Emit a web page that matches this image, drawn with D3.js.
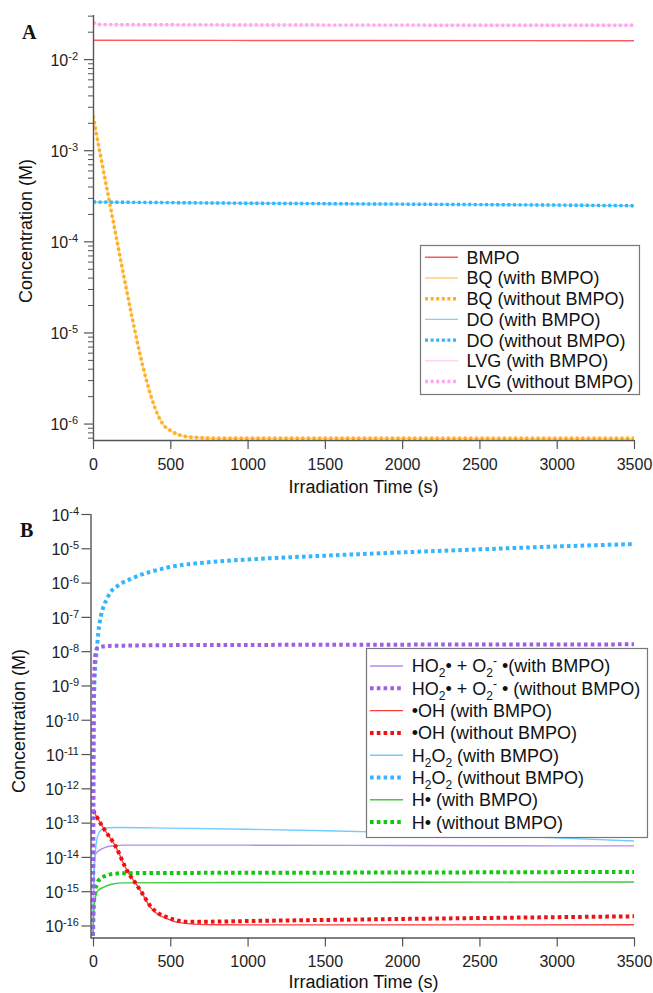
<!DOCTYPE html>
<html>
<head>
<meta charset="utf-8">
<script src="https://cdn.jsdelivr.net/npm/d3@7"></script>
<style>
  body { margin: 0; background: #fff; }
  svg { display: block; font-family: "Liberation Sans", Arial, sans-serif; }
  text { white-space: pre; }
</style>
</head>
<body>
<svg id="chart" width="653" height="993"></svg>
<script>
/** Data (time in s, concentration in M)
------------------------------------------------------------*/

const timeTicks = [0, 500, 1000, 1500, 2000, 2500, 3000, 3500];

// panel A
const bmpoTime = [0, 1750, 3500];
const bmpoConc = [1.61e-2, 1.6e-2, 1.59e-2];

const bqTime = [0, 50, 100, 150, 200, 250, 300, 350, 400, 450, 500, 550, 600, 700, 800, 1000, 1500, 2000, 2500, 3000, 3500];
const bqWithConc = [2.4e-3, 8.5e-4, 3.1e-4, 1.12e-4, 4.1e-5, 1.55e-5, 6.2e-6, 2.8e-6, 1.5e-6, 1.0e-6, 8.4e-7, 7.6e-7, 7.2e-7, 7.0e-7, 6.9e-7, 6.9e-7, 6.9e-7, 6.9e-7, 6.85e-7, 6.85e-7, 6.85e-7];
const bqWithoutConc = [2.4e-3, 8.5e-4, 3.1e-4, 1.12e-4, 4.1e-5, 1.55e-5, 6.2e-6, 2.8e-6, 1.5e-6, 1.0e-6, 8.4e-7, 7.6e-7, 7.2e-7, 7.0e-7, 6.9e-7, 6.9e-7, 6.9e-7, 6.9e-7, 6.9e-7, 6.9e-7, 6.9e-7];

const doTime = [0, 500, 1000, 1500, 2000, 2500, 3000, 3500];
const doWithConc = [2.7e-4, 2.66e-4, 2.62e-4, 2.59e-4, 2.56e-4, 2.53e-4, 2.5e-4, 2.46e-4];
const doWithoutConc = [2.7e-4, 2.66e-4, 2.62e-4, 2.59e-4, 2.56e-4, 2.53e-4, 2.5e-4, 2.46e-4];

const lvgTime = [0, 15, 40, 100, 500, 1000, 2000, 3000, 3500];
const lvgWithConc = [2.55e-2, 2.45e-2, 2.4e-2, 2.39e-2, 2.38e-2, 2.37e-2, 2.36e-2, 2.35e-2, 2.35e-2];
const lvgWithoutConc = [2.55e-2, 2.45e-2, 2.4e-2, 2.39e-2, 2.38e-2, 2.37e-2, 2.36e-2, 2.35e-2, 2.35e-2];

const legendA = ["BMPO", "BQ (with BMPO)", "BQ (without BMPO)", "DO (with BMPO)",
  "DO (without BMPO)", "LVG (with BMPO)", "LVG (without BMPO)"];

// panel B
const ho2WithTime = [0, 3, 8, 13, 25, 45, 80, 131, 200, 1000, 2000, 3000, 3500];
const ho2WithConc = [5e-17, 1e-15, 6e-15, 1.1e-14, 1.35e-14, 1.6e-14, 1.9e-14, 2.1e-14, 2.2e-14, 2.2e-14, 2.15e-14, 2.1e-14, 2.1e-14];
const ho2WithoutTime = [0, 3, 6, 12, 18, 30, 50, 100, 200, 500, 1000, 2000, 3000, 3500];
const ho2WithoutConc = [5e-17, 1e-11, 1e-9, 5e-9, 1e-8, 1.25e-8, 1.35e-8, 1.42e-8, 1.45e-8, 1.5e-8, 1.52e-8, 1.55e-8, 1.57e-8, 1.58e-8];

const ohWithTime = [0, 67, 142, 229, 272, 320, 369, 420, 477, 530, 584, 650, 800, 1000, 2000, 3500];
const ohWithConc = [2.3e-13, 7e-14, 2.2e-14, 3.4e-15, 1.8e-15, 8.3e-16, 3.5e-16, 2.1e-16, 1.6e-16, 1.3e-16, 1.17e-16, 1.1e-16, 1.05e-16, 1.04e-16, 1.04e-16, 1.05e-16];
const ohWithoutTime = [0, 67, 142, 229, 272, 320, 369, 420, 477, 530, 584, 650, 800, 1000, 1500, 2000, 2500, 3000, 3500];
const ohWithoutConc = [2.3e-13, 7e-14, 2.2e-14, 3.4e-15, 1.8e-15, 8.5e-16, 3.8e-16, 2.3e-16, 1.75e-16, 1.45e-16, 1.32e-16, 1.28e-16, 1.3e-16, 1.35e-16, 1.45e-16, 1.55e-16, 1.65e-16, 1.75e-16, 1.85e-16];

const h2o2WithTime = [0, 3, 8, 15, 24, 40, 67, 100, 150, 500, 1000, 1500, 2000, 2500, 3000, 3500];
const h2o2WithConc = [5e-17, 5e-16, 3.4e-15, 1.3e-14, 3.1e-14, 5.2e-14, 6.7e-14, 7.1e-14, 7.2e-14, 6.9e-14, 6.4e-14, 5.8e-14, 5.1e-14, 4.3e-14, 3.6e-14, 2.9e-14];
const h2o2WithoutTime = [0, 2, 5, 10, 15, 24, 34, 50, 67, 90, 110, 153, 260, 477, 800, 1000, 1500, 2000, 2500, 3000, 3500];
const h2o2WithoutConc = [5e-17, 1e-12, 1e-10, 1.5e-9, 4e-9, 1e-8, 3.4e-8, 1e-7, 1.95e-7, 3.3e-7, 5e-7, 7.6e-7, 1.37e-6, 2.7e-6, 4.1e-6, 4.7e-6, 6.1e-6, 7.6e-6, 9.3e-6, 1.13e-5, 1.33e-5];

const hWithTime = [0, 3, 8, 13, 30, 67, 120, 200, 1000, 2000, 3500];
const hWithConc = [5e-17, 1.2e-16, 3.5e-16, 6e-16, 1e-15, 1.3e-15, 1.6e-15, 1.75e-15, 1.8e-15, 1.82e-15, 1.85e-15];
const hWithoutTime = [0, 3, 8, 13, 25, 45, 80, 110, 200, 1000, 2000, 3000, 3500];
const hWithoutConc = [5e-17, 2e-16, 6e-16, 1e-15, 1.6e-15, 2.3e-15, 2.8e-15, 3.1e-15, 3.35e-15, 3.45e-15, 3.5e-15, 3.6e-15, 3.65e-15];

// "_x" = subscript, "^x" = superscript
const legendB = ["HO_2• + O_2^- •(with BMPO)", "HO_2• + O_2^- • (without BMPO)",
  "•OH (with BMPO)", "•OH (without BMPO)", "H_2O_2 (with BMPO)", "H_2O_2 (without BMPO)",
  "H• (with BMPO)", "H• (without BMPO)"];

/** Series tables
------------------------------------------------------------*/

const seriesA = [
  { t: bmpoTime, c: bmpoConc, color: "#ff5a5a", dotted: false },
  { t: bqTime, c: bqWithConc, color: "#ffcf85", dotted: false },
  { t: bqTime, c: bqWithoutConc, color: "#ffb020", dotted: true },
  { t: doTime, c: doWithConc, color: "#78d2ff", dotted: false },
  { t: doTime, c: doWithoutConc, color: "#30b6ff", dotted: true },
  { t: lvgTime, c: lvgWithConc, color: "#ffd6f2", dotted: false },
  { t: lvgTime, c: lvgWithoutConc, color: "#ffa6ec", dotted: true }
];
seriesA.forEach((s, i) => s.label = legendA[i]);

const seriesB = [
  { t: ho2WithTime, c: ho2WithConc, color: "#b08cee", dotted: false },
  { t: ho2WithoutTime, c: ho2WithoutConc, color: "#9d5fe8", dotted: true },
  { t: ohWithTime, c: ohWithConc, color: "#ff3d3d", dotted: false },
  { t: ohWithoutTime, c: ohWithoutConc, color: "#ee1111", dotted: true },
  { t: h2o2WithTime, c: h2o2WithConc, color: "#6fcdff", dotted: false },
  { t: h2o2WithoutTime, c: h2o2WithoutConc, color: "#33b5ff", dotted: true },
  { t: hWithTime, c: hWithConc, color: "#3ccc3c", dotted: false },
  { t: hWithoutTime, c: hWithoutConc, color: "#11c711", dotted: true }
];
seriesB.forEach((s, i) => s.label = legendB[i]);

/** Panels
------------------------------------------------------------*/

const svg = d3.select("#chart");
const defs = svg.append("defs");
const axisColor = "#555";

const panelA = {
  id: "A",
  x: d3.scaleLinear().domain([0, 3500]).range([93, 634]),
  y: d3.scaleLog().domain([6.6e-7, 3.05e-2]).range([440, 15]),
  axisX: 93,
  labelX: 78,
  minorTicks: true,
  series: seriesA,
  order: [0, 1, 2, 3, 4, 5, 6],
  dotW: 3.4, dash: "3,2.6",
  titleX: 32, titleY: 231,
  xTitleY: 492.5,
  letter: { x: 22, y: 38.5 },
  legend: { x: 420, y: 245, w: 219, h: 149, row0: 257.3, step: 20.7, l0: 425, l1: 458, tx: 466.5 }
};

const panelB = {
  id: "B",
  x: d3.scaleLinear().domain([0, 3500]).range([93, 634]),
  y: d3.scaleLog().domain([Math.pow(10, -16.35), 1e-4]).range([937.5, 514]),
  axisX: 90.5,
  labelX: 79,
  minorTicks: false,
  series: seriesB,
  order: [0, 2, 4, 6, 5, 7, 3, 1],
  dotW: 4, dash: "3.6,3.2",
  titleX: 25, titleY: 721,
  xTitleY: 987.5,
  letter: { x: 20, y: 537 },
  legend: { x: 366, y: 648, w: 281, h: 189, row0: 666, step: 22.3, l0: 370, l1: 403, tx: 411.7 }
};

function richText(sel, label) {
  const parts = [];
  for (let i = 0; i < label.length; i++) {
    const ch = label[i];
    if (ch === "_" || ch === "^") {
      parts.push({ text: label[i + 1], s: ch === "_" ? 5 : -7 });
      i++;
    } else if (parts.length && parts[parts.length - 1].s === 0) {
      parts[parts.length - 1].text += ch;
    } else {
      parts.push({ text: ch, s: 0 });
    }
  }
  let shift = 0;
  parts.forEach(pt => {
    sel.append("tspan")
      .attr("dy", pt.s - shift)
      .attr("font-size", pt.s ? 12 : null)
      .text(pt.text);
    shift = pt.s;
  });
}

function drawPanel(p) {
  const g = svg.append("g");
  const [x0, x1] = p.x.range();
  const [yb, yt] = p.y.range();

  defs.append("clipPath").attr("id", "clip" + p.id)
    .append("rect")
    .attr("x", p.axisX).attr("y", yt - 2)
    .attr("width", x1 - p.axisX + 4).attr("height", yb - yt + 2);

  const line = d3.line()
    .x(d => p.x(d[0]))
    .y(d => p.y(d[1]))
    .curve(d3.curveMonotoneX);

  g.append("g")
    .attr("clip-path", `url(#clip${p.id})`)
    .selectAll("path")
    .data(p.order.map(i => p.series[i]))
    .join("path")
    .attr("d", s => line(d3.zip(s.t, s.c)))
    .attr("fill", "none")
    .attr("stroke", s => s.color)
    .attr("stroke-width", s => s.dotted ? p.dotW : 1.4)
    .attr("stroke-dasharray", s => s.dotted ? p.dash : null);

  // x axis
  const xAxis = g.append("g")
    .attr("transform", `translate(0,${yb})`)
    .call(d3.axisBottom(p.x).tickValues(timeTicks).tickFormat(d3.format("d"))
      .tickSize(9).tickSizeOuter(0).tickPadding(9.2));
  xAxis.attr("font-size", 16).attr("font-family", null);
  xAxis.selectAll("text").attr("fill", "#222");
  xAxis.selectAll("line").attr("stroke", axisColor).attr("stroke-width", 1.2);
  xAxis.select(".domain")
    .attr("stroke", axisColor).attr("stroke-width", 1.4)
    .attr("d", `M${p.axisX},0.5H${x1 + 0.5}`);

  // y axis
  const allTicks = p.y.ticks();
  const majors = allTicks.filter(v => Math.abs(Math.log10(v) - Math.round(Math.log10(v))) < 1e-6);
  const minors = allTicks.filter(v => !majors.includes(v));

  const yAxis = g.append("g")
    .attr("transform", `translate(${p.axisX},0)`)
    .call(d3.axisLeft(p.y).tickValues(majors).tickSize(9).tickSizeOuter(0).tickFormat(""));
  yAxis.selectAll("line").attr("stroke", axisColor).attr("stroke-width", 1.2);
  yAxis.select(".domain").attr("stroke", axisColor).attr("stroke-width", 1.4)
    .attr("d", `M0.5,${yb + 0.5}V${yt}`);

  if (p.minorTicks) {
    const yMinor = g.append("g")
      .attr("transform", `translate(${p.axisX},0)`)
      .call(d3.axisLeft(p.y).tickValues(minors).tickSize(5).tickSizeOuter(0).tickFormat(""));
    yMinor.select(".domain").remove();
    yMinor.selectAll("line").attr("stroke", axisColor).attr("stroke-width", 1);
  }

  const yLabels = g.append("g")
    .attr("font-size", 16)
    .attr("fill", "#222")
    .attr("text-anchor", "end");
  majors.forEach(v => {
    const t = yLabels.append("text").attr("x", p.labelX).attr("y", p.y(v) + 6.8);
    t.append("tspan").text("10");
    t.append("tspan").attr("font-size", 11).attr("dy", -6).text(String(Math.round(Math.log10(v))));
  });

  // titles
  g.append("text")
    .attr("transform", `translate(${p.titleX},${p.titleY}) rotate(-90)`)
    .attr("text-anchor", "middle")
    .attr("font-size", 18)
    .attr("fill", "#111")
    .text("Concentration (M)");

  g.append("text")
    .attr("x", (x0 + x1) / 2)
    .attr("y", p.xTitleY)
    .attr("text-anchor", "middle")
    .attr("font-size", 18)
    .attr("fill", "#111")
    .text("Irradiation Time (s)");

  g.append("text")
    .attr("x", p.letter.x)
    .attr("y", p.letter.y)
    .attr("font-family", "'Liberation Serif', 'Times New Roman', serif")
    .attr("font-weight", "bold")
    .attr("font-size", 20)
    .attr("fill", "#111")
    .text(p.id);

  // legend
  const L = p.legend;
  const lg = g.append("g");
  lg.append("rect")
    .attr("x", L.x + 0.5).attr("y", L.y + 0.5)
    .attr("width", L.w).attr("height", L.h)
    .attr("fill", "#fff")
    .attr("stroke", "#777")
    .attr("stroke-width", 1.2);

  const rows = lg.selectAll("g.row")
    .data(p.series)
    .join("g")
    .attr("class", "row")
    .attr("transform", (d, i) => `translate(0,${L.row0 + i * L.step})`);

  rows.append("line")
    .attr("x1", L.l0).attr("x2", L.l1)
    .attr("stroke", d => d.color)
    .attr("stroke-width", d => d.dotted ? p.dotW : 1.4)
    .attr("stroke-dasharray", d => d.dotted ? p.dash : null);

  rows.append("text")
    .attr("x", L.tx)
    .attr("y", 6.4)
    .attr("font-size", 18)
    .attr("fill", "#111")
    .each(function (d) { richText(d3.select(this), d.label); });
}

drawPanel(panelA);
drawPanel(panelB);
</script>
</body>
</html>
